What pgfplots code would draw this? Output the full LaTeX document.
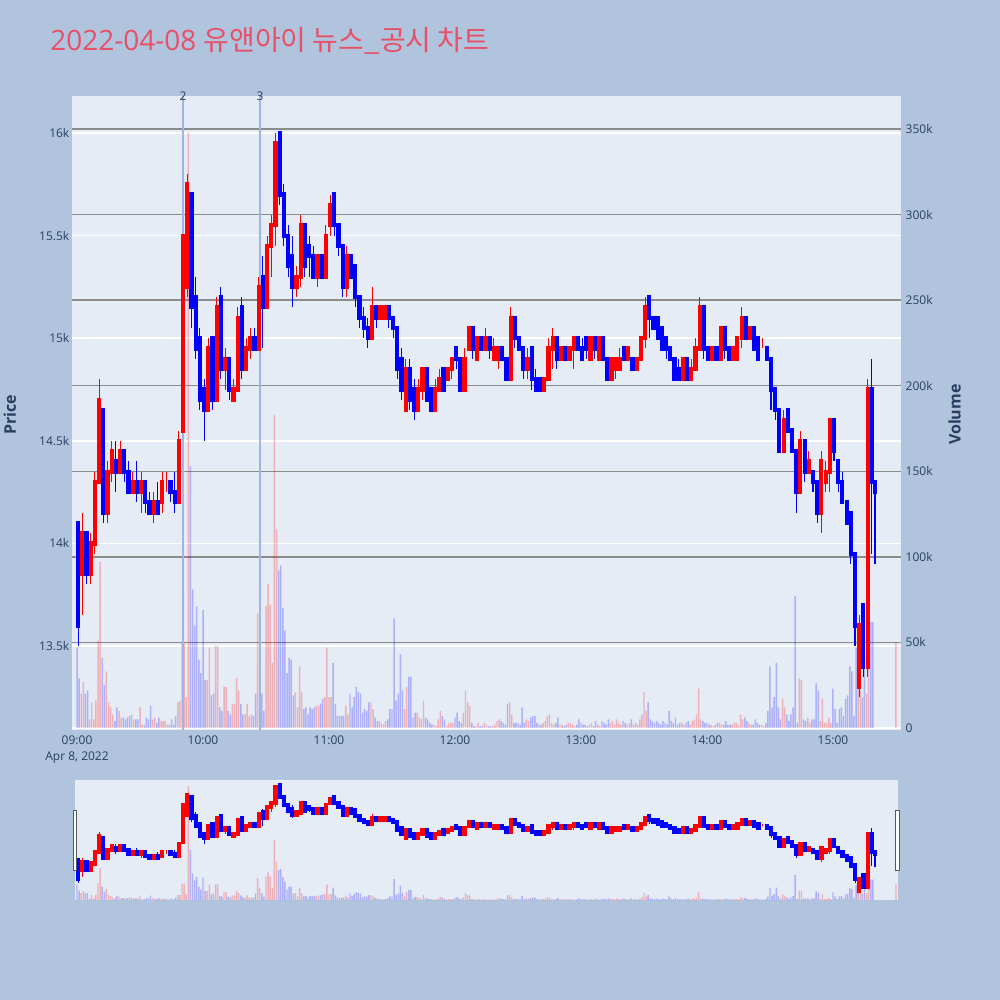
\documentclass[border=0pt]{standalone}
\usepackage{pgfplots}
\pgfplotsset{compat=1.18}
\usepackage{pgfplotstable}
\usepackage{fontspec}
\setmainfont{Open Sans}
\newfontfamily\kr{Noto Sans CJK KR}

\definecolor{pagebg}{HTML}{B0C4DE}
\definecolor{plotbg}{HTML}{E5ECF6}
\definecolor{ink}{HTML}{2A3F5F}
\definecolor{titlecol}{RGB}{232,80,104}
\definecolor{newscol}{RGB}{160,180,232}
\definecolor{volgrid}{RGB}{140,140,140}

% 1-minute candles merged in pairs: t = minutes after 09:00, volumes in thousands
\pgfplotstableread{
t o h l c va vb
0 14100 14100 13500 13600 47 29
2 13850 14150 13650 14050 20 27
4 14050 14050 13800 13850 20 22
6 13850 14050 13800 14000 5 15
8 14000 14350 13950 14300 5 16
10 14300 14800 14300 14700 51 97
12 14650 14650 14100 14150 41 25
14 14150 14400 14100 14350 33 15
16 14350 14500 14300 14450 12 8
18 14400 14500 14250 14350 4 12
20 14350 14500 14350 14450 10 6
22 14450 14450 14300 14350 6 5
24 14350 14400 14250 14250 6 7
26 14250 14350 14250 14300 8 5
28 14300 14400 14200 14250 5 5
30 14250 14350 14150 14300 12 2
32 14300 14300 14150 14200 2 6
34 14200 14250 14150 14150 5 13
36 14150 14250 14100 14200 5 6
38 14200 14300 14150 14150 3 6
40 14200 14350 14150 14300 4 4
42 14300 14350 14250 14300 4 2
44 14300 14300 14200 14250 2 5
46 14250 14350 14150 14200 2 7
48 14200 14550 14200 14500 15 16
50 14550 15500 14550 15500 50 50
52 15250 15800 15200 15750 18 348
54 15700 15700 15050 15150 153 81
56 15200 15300 14900 14950 60 71
58 15000 15050 14650 14700 40 32
60 14750 14800 14500 14650 69 28
62 14650 15000 14650 14950 28 47
64 15000 15000 14650 14700 19 20
66 14700 15200 14700 15150 48 48
68 15200 15250 14800 14850 12 10
70 14850 14950 14750 14900 24 24
72 14900 14900 14700 14750 10 8
74 14700 14800 14700 14750 14 14
76 14750 15150 14750 15100 29 22
78 15150 15200 14800 14850 14 8
80 14850 15000 14850 14950 8 14
82 14950 15050 14900 15000 7 8
84 15000 15050 14950 14950 7 20
86 14950 15300 14950 15250 67 37
88 15300 15400 14950 15150 20 10
90 15150 15500 15150 15450 71 84
92 15450 15600 15300 15550 72 38
94 15550 16000 15450 15950 183 116
96 16000 16000 15650 15700 92 95
98 15700 15750 15450 15500 70 57
100 15500 15550 15300 15350 32 41
102 15400 15500 15150 15250 40 19
104 15250 15350 15200 15300 21 12
106 15300 15600 15250 15550 36 21
108 15550 15550 15300 15350 11 12
110 15450 15500 15300 15400 8 12
112 15400 15450 15300 15300 11 12
114 15300 15400 15250 15400 13 13
116 15400 15400 15300 15300 14 17
118 15300 15550 15300 15500 18 47
120 15550 15700 15500 15650 18 18
122 15700 15700 15500 15550 38 14
124 15550 15550 15400 15450 7 7
126 15450 15450 15200 15250 7 7
128 15250 15450 15200 15400 13 8
130 15400 15400 15300 15300 20 12
132 15350 15350 15150 15200 18 24
134 15200 15200 15050 15100 21 20
136 15100 15150 15000 15050 9 11
138 15050 15100 14950 15000 10 15
140 15000 15250 15000 15150 15 11
142 15150 15150 15050 15100 6 4
144 15100 15150 15100 15150 4 3
146 15100 15150 15100 15150 2 4
148 15150 15150 15050 15100 5 11
150 15100 15100 15000 15050 11 64
152 15050 15050 14800 14850 16 20
154 14900 14950 14700 14750 43 22
156 14650 14900 14650 14850 11 24
158 14850 14900 14650 14700 30 30
160 14750 14800 14600 14650 6 9
162 14650 14800 14650 14750 9 6
164 14750 14850 14700 14850 5 16
166 14850 14850 14700 14700 6 5
168 14750 14750 14650 14650 3 2
170 14650 14800 14650 14750 2 1
172 14750 14850 14750 14800 5 10
174 14850 14850 14750 14750 7 5
176 14800 14850 14800 14850 1 3
178 14850 14900 14800 14900 3 3
180 14950 14950 14850 14900 6 9
182 14900 14900 14750 14750 4 3
184 14750 14950 14750 14900 9 22
186 14950 15050 14950 15050 15 13
188 15050 15050 14900 14950 3 1
190 14900 15000 14900 15000 1 3
192 15000 15000 14950 14950 1 1
194 14950 15050 14950 15000 3 2
196 15000 15000 14900 14950 1 1
198 14900 15000 14900 14950 1 2
200 14900 14950 14850 14950 4 5
202 14950 14950 14900 14900 4 3
204 14900 14900 14800 14800 2 14
206 14800 15150 14800 15100 15 8
208 15100 15100 14950 15000 3 3
210 15000 15000 14950 14950 3 2
212 14950 14950 14800 14850 12 3
214 14850 14950 14800 14900 5 4
216 14950 14950 14750 14800 6 7
218 14800 14850 14750 14750 7 3
220 14800 14800 14750 14750 2 2
222 14750 14800 14750 14800 3 4
224 14800 15000 14800 14950 7 8
226 14950 15050 14850 15000 3 2
228 15000 15000 14850 14900 3 6
230 14900 14950 14900 14950 2 2
232 14950 14950 14900 14900 1 2
234 14900 14950 14900 14950 3 3
236 14950 15000 14850 15000 2 1
238 15000 15000 14950 14950 2 5
240 14950 15000 14900 14900 3 2
242 15000 15000 14900 14950 2 1
244 14900 15000 14900 15000 2 3
246 15000 15000 14900 14950 1 4
248 14900 15000 14900 15000 2 1
250 15000 15000 14900 14900 4 3
252 14900 14900 14800 14800 2 5
254 14800 14900 14800 14900 3 4
256 14850 14900 14800 14900 2 5
258 14850 14950 14850 14900 3 2
260 14950 14950 14900 14900 4 3
262 14900 14950 14900 14950 2 3
264 14900 14900 14850 14850 5 2
266 14850 14900 14850 14900 3 2
268 14900 15000 14900 15000 5 8
270 15000 15200 14950 15150 21 10
272 15200 15200 15000 15100 15 5
274 15100 15100 15050 15050 4 3
276 15100 15100 15000 15000 4 3
278 15050 15050 14950 14950 2 4
280 15000 15000 14900 14950 3 2
282 14950 14950 14900 14900 10 4
284 14900 14900 14800 14800 3 6
286 14850 14900 14800 14800 2 3
288 14800 14900 14800 14900 3 2
290 14900 14900 14800 14800 3 4
292 14800 14900 14800 14850 2 4
294 14850 15000 14850 14950 5 8
296 14950 15200 14950 15150 23 5
298 15150 15150 14900 14950 4 3
300 14950 14950 14900 14900 3 2
302 14900 14950 14900 14950 2 1
304 14950 14950 14900 14900 2 3
306 14900 15050 14900 15050 3 2
308 15050 15050 14900 14950 2 4
310 14950 14950 14900 14900 2 2
312 14900 14950 14900 14950 2 3
314 14900 15000 14900 15000 3 2
316 15000 15150 14950 15100 8 5
318 15100 15100 15000 15000 6 4
320 15000 15050 15000 15050 3 2
322 15050 15050 14950 14950 2 5
324 15000 15000 14900 14900 3 2
326 14950 15000 14950 14950 2 1
328 14950 14950 14900 14900 3 10
330 14900 14900 14650 14750 36 12
332 14750 14750 14600 14650 18 38
334 14650 14650 14450 14450 12 5
336 14450 14650 14450 14600 17 12
338 14650 14650 14550 14550 8 4
340 14550 14550 14450 14450 8 12
342 14450 14450 14150 14250 77 3
344 14250 14550 14250 14500 29 28
346 14500 14500 14300 14350 5 4
348 14350 14450 14350 14400 6 3
350 14350 14350 14250 14300 5 5
352 14300 14300 14100 14150 26 22
354 14150 14450 14050 14400 4 17
356 14300 14400 14250 14350 3 3
358 14350 14600 14250 14600 6 3
360 14600 14600 14400 14450 23 11
362 14400 14400 14250 14300 3 11
364 14300 14350 14200 14200 12 7
366 14200 14200 14100 14100 17 19
368 14150 14150 13900 13950 36 33
370 13950 13950 13500 13600 7 47
372 13300 13650 13250 13600 60 22
374 13700 13700 13350 13400 18 45
376 13400 14800 13350 14750 20 37
378 14750 14900 13950 14300 62 62
379.5 14300 14300 13900 14250 0 0
390 14400 14400 14400 14400 50 0
}\ohlc

\pgfplotsset{
  scaled ticks=false,
  up/.style={restrict expr to domain={\thisrow{c}-\thisrow{o}}{0:9000}},
  down/.style={restrict expr to domain={\thisrow{c}-\thisrow{o}}{-9000:-1}},
  body/.style={draw=none, mark=none, forget plot,
    error bars/y dir=both, error bars/y explicit, error bars/error mark=none,
    error bars/error bar style={draw=#1, line width=3.1pt, line cap=rect}},
  wick/.style={draw=none, mark=none, forget plot,
    error bars/y dir=both, error bars/y explicit, error bars/error mark=none,
    error bars/error bar style={draw=#1, line width=0.8pt}},
  vol/.style={ybar, bar width=1.1pt, bar shift=0pt, draw=none,
    fill=#1, fill opacity=0.25, forget plot},
  frame/.style={scale only axis, anchor=south west, clip=false},
}

% candles and volume, drawn the same way in the chart and in the range slider
\newcommand{\candles}{%
  \addplot[up, wick=red] table[x expr=\thisrow{t}+0.5,
    y expr=0.5*\thisrow{h}+0.5*\thisrow{l},
    y error expr=0.5*\thisrow{h}-0.5*\thisrow{l}] {\ohlc};
  \addplot[down, wick=blue] table[x expr=\thisrow{t}+0.5,
    y expr=0.5*\thisrow{h}+0.5*\thisrow{l},
    y error expr=0.5*\thisrow{h}-0.5*\thisrow{l}] {\ohlc};
  \addplot[up, body=red] table[x expr=\thisrow{t}+0.5,
    y expr=0.5*\thisrow{o}+0.5*\thisrow{c},
    y error expr=abs(0.5*\thisrow{c}-0.5*\thisrow{o})] {\ohlc};
  \addplot[down, body=blue] table[x expr=\thisrow{t}+0.5,
    y expr=0.5*\thisrow{o}+0.5*\thisrow{c},
    y error expr=abs(0.5*\thisrow{c}-0.5*\thisrow{o})] {\ohlc};
}
\newcommand{\volumes}{%
  \addplot[up, vol=red] table[x=t, y=va] {\ohlc};
  \addplot[up, vol=red] table[x expr=\thisrow{t}+1, y=vb] {\ohlc};
  \addplot[down, vol=blue] table[x=t, y=va] {\ohlc};
  \addplot[down, vol=blue] table[x expr=\thisrow{t}+1, y=vb] {\ohlc};
}

\begin{document}
\begin{tikzpicture}
\useasboundingbox (0,0) rectangle (750pt,-750pt);
\fill[pagebg] (0,0) rectangle (750pt,-750pt);

\node[anchor=base west, inner sep=0, text=titlecol] at (37.5pt,-38pt)
  {\fontsize{21}{25}\selectfont 2022-04-08 {\kr\fontsize{21}{25}\selectfont 유앤아이 뉴스\_공시 차트}};

% price grid and tick labels
\begin{axis}[frame, at={(54pt,-547.5pt)}, width=621.75pt, height=475.5pt,
  xmin=-2.4, xmax=392.4, ymin=13091, ymax=16180,
  axis background/.style={fill=plotbg},
  axis line style={draw=none}, major tick length=0pt,
  ytick={13500,14000,...,16000},
  yticklabels={13.5k,14k,14.5k,15k,15.5k,16k},
  xtick={0,60,...,360},
  xticklabels={{09:00\\Apr 8, 2022},10:00,11:00,12:00,13:00,14:00,15:00},
  ymajorgrids, major grid style={white, line width=1.1pt},
  tick label style={font=\fontsize{9}{12}\selectfont, text=ink},
  xticklabel style={align=center, yshift=-1pt},
  yticklabel style={xshift=1.5pt},
]
\end{axis}

% volume, right axis
\begin{axis}[frame, at={(54pt,-547.5pt)}, width=621.75pt, height=475.5pt,
  xmin=-2.4, xmax=392.4, ymin=-1.2, ymax=369.3,
  hide x axis, axis y line*=right,
  axis line style={draw=none}, major tick length=0pt,
  ytick={0,50,...,350},
  yticklabels={0,50k,100k,150k,200k,250k,300k,350k},
  ymajorgrids, major grid style={volgrid, line width=1pt},
  tick label style={font=\fontsize{9}{12}\selectfont, text=ink},
]
\addplot[white, line width=1.1pt, forget plot] coordinates {(-2.4,0) (392.4,0)};
\volumes
\end{axis}

% price candles with the two news markers
\begin{axis}[frame, at={(54pt,-547.5pt)}, width=621.75pt, height=475.5pt,
  xmin=-2.4, xmax=392.4, ymin=13091, ymax=16180, hide axis]
\addplot[newscol, line width=1.1pt, forget plot] coordinates {(50.5,13091) (50.5,16180)};
\addplot[newscol, line width=1.1pt, forget plot] coordinates {(87.1,13091) (87.1,16180)};
\node[text=ink, font=\fontsize{9}{12}\selectfont] at (axis cs:50.5,16180) {2};
\node[text=ink, font=\fontsize{9}{12}\selectfont] at (axis cs:87.1,16180) {3};
\candles
\end{axis}

\node[rotate=90, text=ink, font=\fontsize{12}{14}\selectfont\bfseries] at (7.5pt,-311pt) {Price};
\node[rotate=90, text=ink, font=\fontsize{12}{14}\selectfont\bfseries] at (716pt,-311pt) {Volume};

% range slider
\fill[plotbg] (56.25pt,-585pt) rectangle (673.5pt,-675pt);
\begin{axis}[frame, at={(56.25pt,-675pt)}, width=617.25pt, height=90pt,
  xmin=-0.95, xmax=390.95, ymin=0, ymax=366, hide axis]
\volumes
\end{axis}
\begin{axis}[frame, at={(56.25pt,-675pt)}, width=617.25pt, height=90pt,
  xmin=-0.95, xmax=390.95, ymin=13072, ymax=16127, hide axis]
\candles
\end{axis}
\filldraw[fill=white, draw=gray!70!black, line width=0.75pt] (54.8pt,-607.5pt) rectangle (57.6pt,-652.5pt);
\filldraw[fill=white, draw=gray!70!black, line width=0.75pt] (671.8pt,-607.5pt) rectangle (674.6pt,-652.5pt);
\end{tikzpicture}
\end{document}
